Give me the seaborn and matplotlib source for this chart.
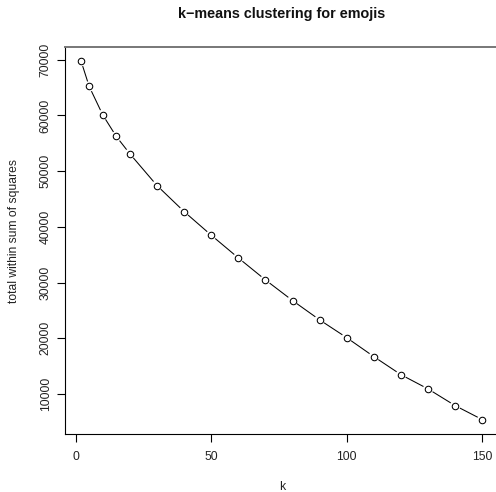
import matplotlib
matplotlib.use("Agg")
import matplotlib.pyplot as plt
import seaborn as sns
import pandas as pd

k_values = [2, 5, 10, 15, 20, 30, 40, 50, 60, 70, 80, 90, 100, 110, 120, 130, 140, 150]
wss = [69770, 65210, 60100, 56230, 53120, 47420, 42750, 38510, 34430, 30480,
       26770, 23300, 20100, 16700, 13460, 10900, 7900, 5390]
x_ticks = [0, 50, 100, 150]
y_ticks = [10000, 20000, 30000, 40000, 50000, 60000, 70000]

df = pd.DataFrame({"k": k_values, "wss": wss})

sns.set_style("white")
plt.rcParams["font.family"] = ["Liberation Sans", "DejaVu Sans"]

W, H = 496, 492
fig = plt.figure(figsize=(W / 100, H / 100), dpi=100)
left, right, top, bottom = 65.0, 498.4, 46.7, 434.0
ax = fig.add_axes([left / W, 1 - bottom / H, (right - left) / W, (bottom - top) / H])

sns.lineplot(data=df, x="k", y="wss", ax=ax, color="black", linewidth=0.75, zorder=2)
# white halo to mimic R's type="b" gaps
sns.scatterplot(data=df, x="k", y="wss", ax=ax, s=58, color="white",
                edgecolor="none", linewidth=0, zorder=3)
sns.scatterplot(data=df, x="k", y="wss", ax=ax, s=22, facecolor="white",
                edgecolor="black", linewidth=0.75, zorder=4)

pad_x = 0.04 * (max(k_values) - min(k_values))
pad_y = 0.04 * (max(wss) - min(wss))
ax.set_xlim(min(k_values) - pad_x, max(k_values) + pad_x)
ax.set_ylim(min(wss) - pad_y, max(wss) + pad_y)

ax.set_xticks(x_ticks)
ax.set_yticks(y_ticks)
ax.set_xticklabels([str(v) for v in x_ticks])
ax.set_yticklabels([str(v) for v in y_ticks], rotation=90, va="center")
ax.set_xlabel("")
ax.set_ylabel("")

for s in ["left", "bottom"]:
    ax.spines[s].set_color("black")
    ax.spines[s].set_linewidth(0.8)
ax.spines["top"].set_color("#777777")
ax.spines["top"].set_linewidth(1.4)
ax.spines["right"].set_visible(False)

ax.tick_params(axis="both", which="both", direction="out", length=5.5, width=0.8,
               color="black", labelsize=8.7, labelcolor="#222222",
               left=True, bottom=True)
ax.tick_params(axis="x", pad=7)
ax.tick_params(axis="y", pad=4)

fig.text(282 / W, 1 - 14 / H, "k\u2212means clustering for emojis", ha="center",
         va="center", fontsize=10.4, fontweight="bold", color="#111111")
fig.text(282 / W, 1 - 487 / H, "k", ha="center", va="center", fontsize=8.7,
         color="#222222")
fig.text(14 / W, 1 - 231.5 / H, "total within sum of squares", ha="center",
         va="center", rotation=90, fontsize=8.7, color="#222222")

fig.savefig("out.png", dpi=100, facecolor="white")
